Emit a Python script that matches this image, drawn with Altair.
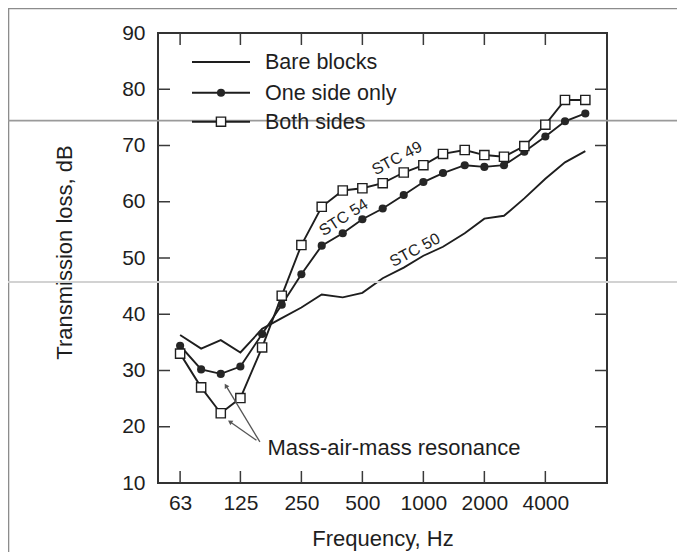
import altair as alt
import pandas as pd

# Third-octave band centre frequencies (Hz)
freqs = [63, 80, 100, 125, 160, 200, 250, 315, 400, 500, 630, 800,
         1000, 1250, 1600, 2000, 2500, 3150, 4000, 5000, 6300]
# Transmission loss (dB)
bare_blocks = [36.3, 33.9, 35.4, 33.2, 37.4, 39.3, 41.2, 43.5, 43.0, 43.8, 46.4,
               48.3, 50.4, 52.0, 54.4, 57.0, 57.5, 60.6, 64.1, 67.0, 69.0]
one_side = [34.4, 30.2, 29.4, 30.7, 36.5, 41.7, 47.1, 52.2, 54.4, 56.9, 58.8,
            61.2, 63.5, 65.1, 66.5, 66.2, 66.5, 68.9, 71.6, 74.3, 75.7]
both_sides = [33.0, 27.0, 22.4, 25.1, 34.1, 43.3, 52.3, 59.1, 62.0, 62.4, 63.3,
              65.2, 66.5, 68.5, 69.2, 68.3, 68.0, 69.9, 73.7, 78.1, 78.1]

series_names = ["Bare blocks", "One side only", "Both sides"]
x_tick_values = [63, 125, 250, 500, 1000, 2000, 4000]
y_tick_values = [10, 20, 30, 40, 50, 60, 70, 80, 90]
inner_y_ticks = [20, 30, 40, 50, 60, 70, 80]

stc_labels = ["STC 49", "STC 54", "STC 50"]
stc_freq = [741, 404, 909]
stc_tl = [67.7, 57.2, 51.4]
stc_angle = [332, 327, 332]

note_text = "Mass-air-mass resonance"
note_freq = [170]
note_tl = [16.2]
arrow_from_freq = [156, 150]
arrow_from_tl = [17.3, 17.6]
arrow_to_freq = [106, 111]
arrow_to_tl = [27.3, 20.9]
arrow_angle = [329, 304]

FONT = "Liberation Sans"
INK = "#1e1e1e"
W, H = 449, 450

df_bare = pd.DataFrame({"freq": freqs, "tl": bare_blocks})
df_one = pd.DataFrame({"freq": freqs, "tl": one_side})
df_both = pd.DataFrame({"freq": freqs, "tl": both_sides})

xscale = alt.Scale(type="log", domain=[49, 8060], nice=False, zero=False)
yscale = alt.Scale(domain=[10, 90], nice=False, zero=False)
xaxis = alt.Axis(title="Frequency, Hz", values=x_tick_values, format="d",
                 labelFlush=False, labelOverlap=False, labelPadding=9, titlePadding=15)
yaxis = alt.Axis(title="Transmission loss, dB", values=y_tick_values,
                 labelFlush=False, labelPadding=13, titlePadding=45, titleY=219)

X = alt.X("freq:Q", scale=xscale, axis=xaxis)
Y = alt.Y("tl:Q", scale=yscale, axis=yaxis)

bare_line = alt.Chart(df_bare).mark_line(color=INK, strokeWidth=1.9).encode(x=X, y=Y)
one_line = alt.Chart(df_one).mark_line(color=INK, strokeWidth=1.9).encode(x=X, y=Y)
one_pts = alt.Chart(df_one).mark_point(shape="circle", filled=True, size=66,
                                        color="#262626", opacity=1).encode(x=X, y=Y)
both_line = alt.Chart(df_both).mark_line(color=INK, strokeWidth=1.9).encode(x=X, y=Y)
both_pts = alt.Chart(df_both).mark_point(shape="square", filled=True, size=85,
                                          fill="white", stroke=INK, strokeWidth=1.4,
                                          opacity=1).encode(x=X, y=Y)

# inward ticks on all four sides
df_yt = pd.DataFrame({"tl": inner_y_ticks})
df_xt = pd.DataFrame({"freq": x_tick_values})
tick_style = dict(color="#3a3a3a", strokeWidth=1.5)
left_ticks = alt.Chart(df_yt).mark_rule(**tick_style).encode(
    y=Y, x=alt.value(0), x2=alt.value(12))
right_ticks = alt.Chart(df_yt).mark_rule(**tick_style).encode(
    y=Y, x=alt.value(W - 12), x2=alt.value(W))
top_ticks = alt.Chart(df_xt).mark_rule(**tick_style).encode(
    x=X, y=alt.value(0), y2=alt.value(12))
bottom_ticks = alt.Chart(df_xt).mark_rule(**tick_style).encode(
    x=X, y=alt.value(H - 12), y2=alt.value(H))

# STC annotations
df_stc = pd.DataFrame({"label": stc_labels, "freq": stc_freq, "tl": stc_tl, "ang": stc_angle})
stc_text = alt.Chart(df_stc).mark_text(font=FONT, fontSize=16, color=INK,
                                       align="center", baseline="middle").encode(
    x=X, y=Y, text="label:N", angle=alt.Angle("ang:Q", scale=None))

# Mass-air-mass resonance note with arrows
df_note = pd.DataFrame({"label": [note_text], "freq": note_freq, "tl": note_tl})
note = alt.Chart(df_note).mark_text(font=FONT, fontSize=22, color=INK,
                                    align="left", baseline="middle").encode(
    x=X, y=Y, text="label:N")
df_arr = pd.DataFrame({"freq": arrow_from_freq, "tl": arrow_from_tl,
                       "freq_end": arrow_to_freq, "tl_end": arrow_to_tl, "ang": arrow_angle})
arrows = alt.Chart(df_arr).mark_rule(color="#555555", strokeWidth=1.3).encode(
    x=X, y=Y, x2="freq_end:Q", y2="tl_end:Q")
heads = alt.Chart(df_arr).mark_point(shape="triangle-up", filled=True, size=28,
                                     color="#555555", opacity=1).encode(
    x=alt.X("freq_end:Q", scale=xscale, axis=xaxis),
    y=alt.Y("tl_end:Q", scale=yscale, axis=yaxis),
    angle=alt.Angle("ang:Q", scale=None))

# Legend (drawn by hand inside the plot, top-left)
leg_rows = [29, 59.7, 88.7]
legend_layers = []
for name, yy in zip(series_names, leg_rows):
    one = pd.DataFrame({"label": [name]})
    legend_layers.append(alt.Chart(one).mark_rule(color=INK, strokeWidth=1.9).encode(
        x=alt.value(34), x2=alt.value(92), y=alt.value(yy)))
    legend_layers.append(alt.Chart(one).mark_text(font=FONT, fontSize=21.5, color=INK,
                                                  align="left", baseline="middle").encode(
        x=alt.value(107), y=alt.value(yy + 1), text="label:N"))
legend_layers.append(alt.Chart(pd.DataFrame({"label": [series_names[1]]})).mark_point(
    shape="circle", filled=True, size=66, color="#262626", opacity=1).encode(
    x=alt.value(63), y=alt.value(leg_rows[1])))
legend_layers.append(alt.Chart(pd.DataFrame({"label": [series_names[2]]})).mark_point(
    shape="square", filled=True, size=85, fill="white", stroke=INK, strokeWidth=1.4,
    opacity=1).encode(x=alt.value(63), y=alt.value(leg_rows[2])))

# scan artefacts of the page (border and stray lines)
artefact = pd.DataFrame({"k": [0]})
scan = [
    alt.Chart(artefact).mark_rule(color="#8c8c8c", strokeWidth=1.6).encode(
        x=alt.value(-150), x2=alt.value(W + 75), y=alt.value(-24.5)),
    alt.Chart(artefact).mark_rule(color="#8c8c8c", strokeWidth=1.6).encode(
        x=alt.value(-149.5), y=alt.value(-24.5), y2=alt.value(H + 70)),
    alt.Chart(artefact).mark_rule(color="#9a9a9a", strokeWidth=1.8).encode(
        x=alt.value(-150), x2=alt.value(W + 75), y=alt.value(87.7)),
    alt.Chart(artefact).mark_rule(color="#d2d2d2", strokeWidth=1.8).encode(
        x=alt.value(-150), x2=alt.value(W + 75), y=alt.value(249)),
]

chart = alt.layer(
    bare_line, *scan, left_ticks, right_ticks, top_ticks, bottom_ticks,
    one_line, both_line, one_pts, both_pts,
    stc_text, note, arrows, heads, *legend_layers
).properties(
    width=W, height=H,
    autosize=alt.AutoSizeParams(type="none"),
    padding={"left": 150, "top": 25, "right": 70, "bottom": 69},
).configure_view(
    stroke="#333333", strokeWidth=2
).configure_axis(
    domain=False, grid=False, ticks=False,
    labelFont=FONT, labelFontSize=21, labelColor=INK,
    titleFont=FONT, titleFontSize=22, titleColor=INK, titleFontWeight="normal"
)

chart.save("out.html", embed_options={"renderer": "svg", "actions": False})
